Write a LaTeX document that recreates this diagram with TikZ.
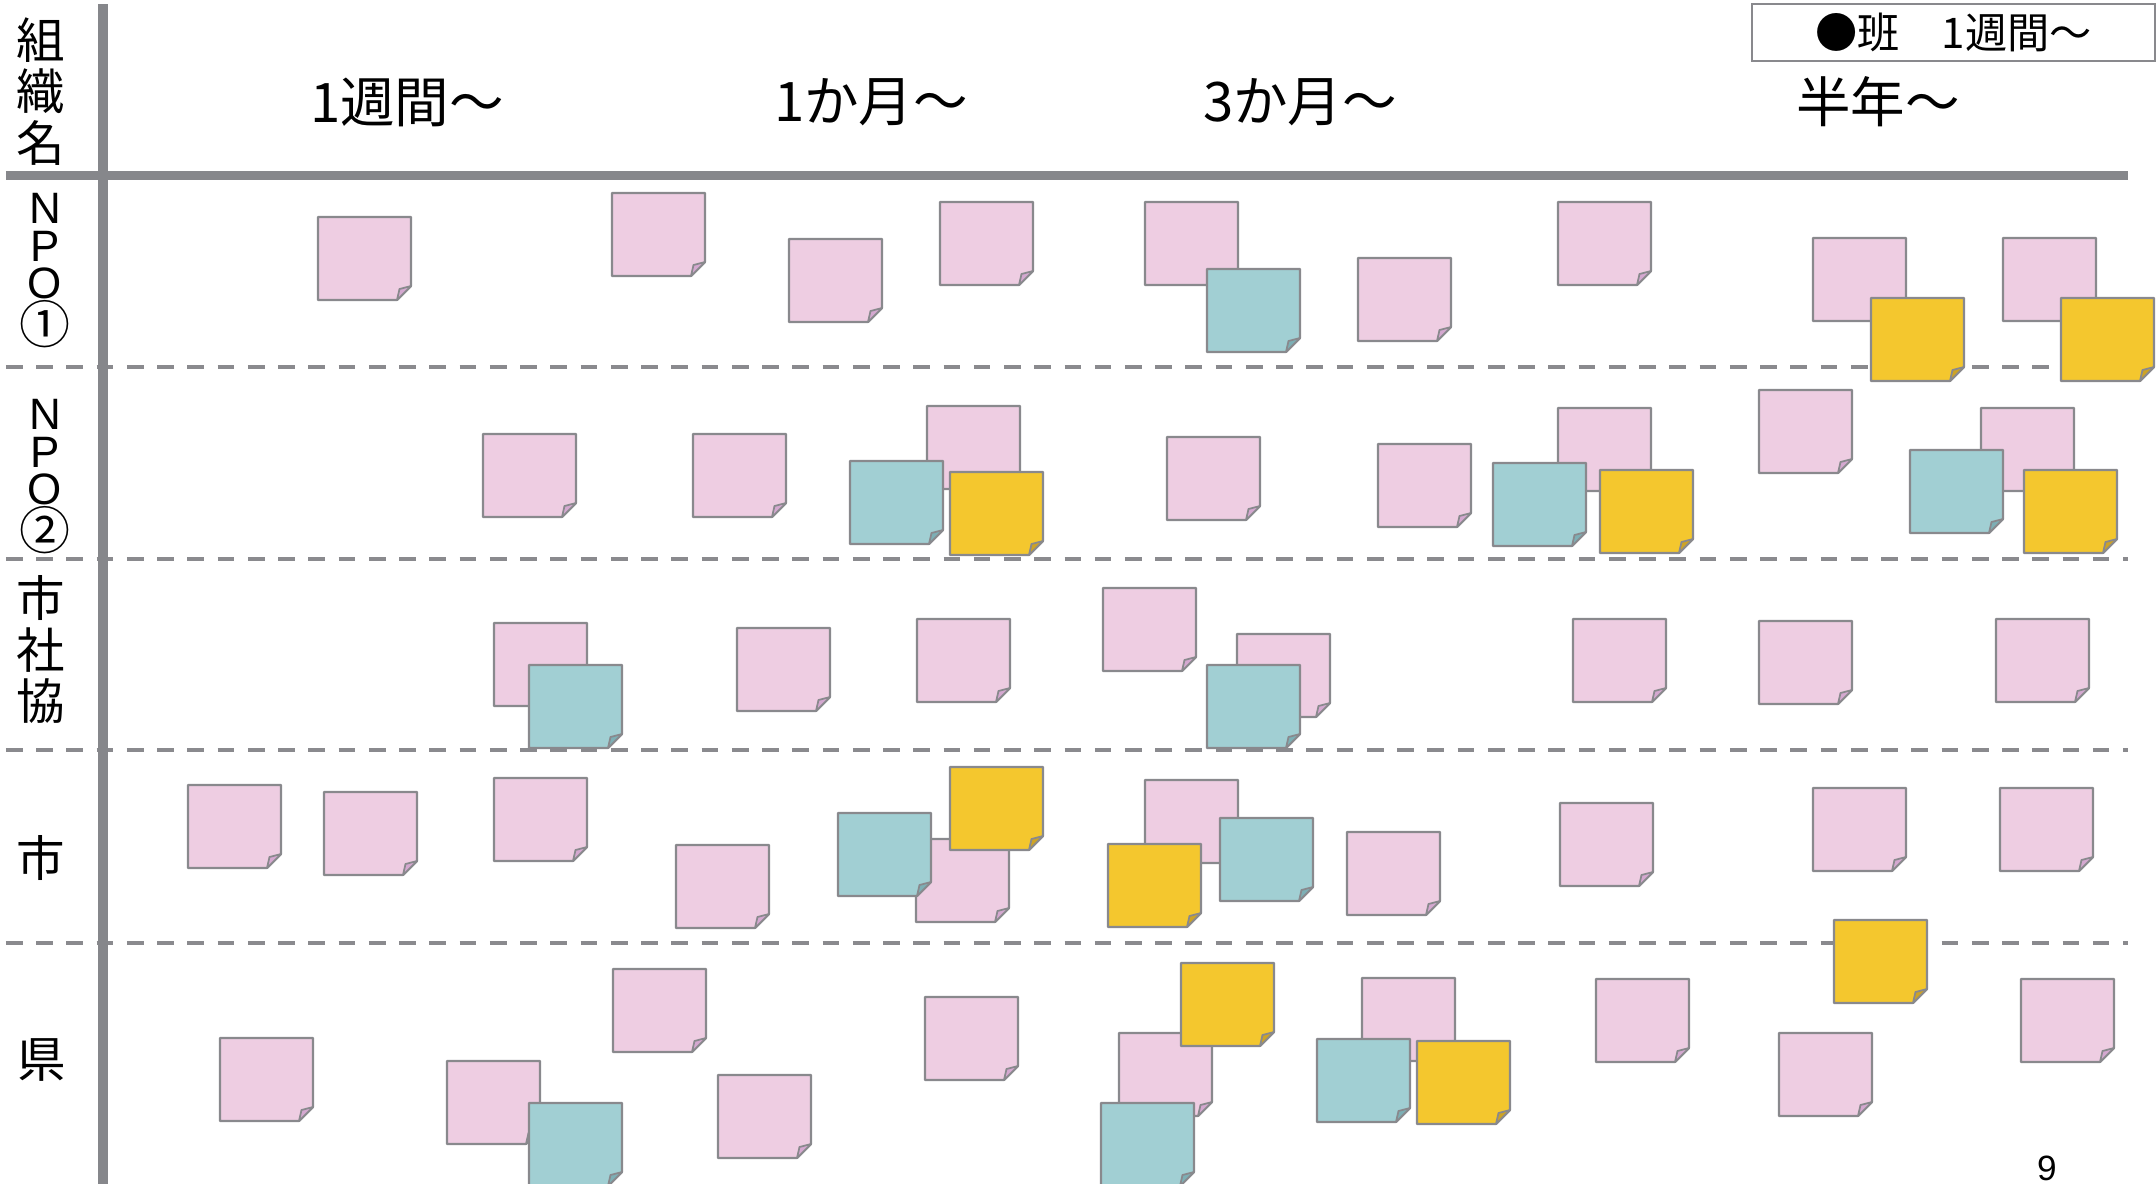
\documentclass[tikz,border=0pt]{standalone}
\usepackage{fontspec}
\setmainfont{Liberation Sans}
\newfontfamily\jp{Noto Sans CJK JP}
\definecolor{notepink}{RGB}{238,205,226}
\definecolor{notepinkfold}{RGB}{212,168,208}
\definecolor{noteteal}{RGB}{161,207,211}
\definecolor{notetealfold}{RGB}{125,175,181}
\definecolor{noteyellow}{RGB}{244,199,46}
\definecolor{noteyellowfold}{RGB}{205,163,38}
\definecolor{edgegray}{RGB}{137,137,141}
\definecolor{bargray}{RGB}{134,135,139}
\definecolor{dashgray}{RGB}{138,138,142}
\tikzset{
  pics/note/.style={code={
    \path[draw=edgegray, line width=0.6pt, line join=round, fill=note#1]
      (0,0) -- (93,0) -- (93,69) -- (79,83) -- (0,83) -- cycle;
    \path[draw=edgegray, line width=0.5pt, line join=round, fill=note#1fold]
      (79,83) .. controls (80,77) .. (81.5,72) -- (93,69) -- cycle;
  }},
  bar/.style={draw=bargray, line width=2.7pt},
  rowsep/.style={draw=dashgray, line width=1.22pt, dash pattern=on 4.75pt off 3.85pt},
  hdr/.style={font=\jp\fontsize{15.5}{18}\selectfont, inner sep=0pt},
  rowlab/.style={font=\jp\fontsize{13.8}{14.6}\selectfont, inner sep=0pt, align=center},
  latin/.style={font=\fontsize{12.5}{13}\selectfont, inner sep=0pt},
  circnum/.style={font=\jp\fontsize{14.5}{15}\selectfont, inner sep=0pt}
}
\begin{document}
\begin{tikzpicture}[x=0.01cm, y=-0.01cm]
\useasboundingbox (0,0) rectangle (2156,1184);
% grid lines
\draw[rowsep] (6,367) coordinate (d1a) -- (2128,367) coordinate (d1b);
\draw[rowsep] (6,559) coordinate (d2a) -- (2128,559) coordinate (d2b);
\draw[rowsep] (6,750) coordinate (d3a) -- (2128,750) coordinate (d3b);
\draw[rowsep] (6,943) coordinate (d4a) -- (2128,943) coordinate (d4b);
\draw[bar] (6,175.5) coordinate (ha) -- (2128,175.5) coordinate (hb);
\draw[bar] (103,4) coordinate (va) -- (103,1184) coordinate (vb);
% headers
\node[hdr] (h1) at (407,102) {1週間～};
\node[hdr] (h2) at (871,102) {1か月～};
\node[hdr] (h3) at (1300,102) {3か月～};
\node[hdr] (h4) at (1878,102) {半年～};
\node[draw=edgegray, line width=0.5pt, minimum width=4.03cm, minimum height=0.57cm, inner sep=0pt,
  font=\jp\fontsize{12}{14}\selectfont] (tag) at (1953.5,32.5) {●班　1週間～};
% row labels
\node[rowlab] (l0) at (41,91.5) {組\\織\\名};
\node[latin] (l1n) at (45,208) {N};
\node[latin] (l1p) at (45,246) {P};
\node[latin] (l1o) at (45,283) {O};
\node[circnum] (l1c) at (45,324) {①};
\node[latin] (l2n) at (45,414) {N};
\node[latin] (l2p) at (45,452) {P};
\node[latin] (l2o) at (45,489) {O};
\node[circnum] (l2c) at (45,530) {②};
\node[rowlab] (l3) at (41,649.5) {市\\社\\協};
\node[rowlab] (l4) at (41,858) {市};
\node[rowlab] (l5) at (42,1060) {県};
\node[font=\fontsize{10}{12}\selectfont, inner sep=0pt] (pg) at (2047,1168) {9};
% row 1: NPO1
\pic (a1) at (318,217) {note=pink};
\pic (a2) at (612,193) {note=pink};
\pic (a3) at (789,239) {note=pink};
\pic (a4) at (940,202) {note=pink};
\pic (a5) at (1145,202) {note=pink};
\pic (a6) at (1207,269) {note=teal};
\pic (a7) at (1358,258) {note=pink};
\pic (a8) at (1558,202) {note=pink};
\pic (a9) at (1813,238) {note=pink};
\pic (a10) at (1871,298) {note=yellow};
\pic (a11) at (2003,238) {note=pink};
\pic (a12) at (2061,298) {note=yellow};
% row 2: NPO2
\pic (b1) at (483,434) {note=pink};
\pic (b2) at (693,434) {note=pink};
\pic (b3) at (927,406) {note=pink};
\pic (b4) at (850,461) {note=teal};
\pic (b5) at (950,472) {note=yellow};
\pic (b6) at (1167,437) {note=pink};
\pic (b7) at (1378,444) {note=pink};
\pic (b8) at (1558,408) {note=pink};
\pic (b9) at (1493,463) {note=teal};
\pic (b10) at (1600,470) {note=yellow};
\pic (b11) at (1759,390) {note=pink};
\pic (b12) at (1981,408) {note=pink};
\pic (b13) at (1910,450) {note=teal};
\pic (b14) at (2024,470) {note=yellow};
% row 3
\pic (c1) at (494,623) {note=pink};
\pic (c2) at (529,665) {note=teal};
\pic (c3) at (737,628) {note=pink};
\pic (c4) at (917,619) {note=pink};
\pic (c5) at (1103,588) {note=pink};
\pic (c6) at (1237,634) {note=pink};
\pic (c7) at (1207,665) {note=teal};
\pic (c8) at (1573,619) {note=pink};
\pic (c9) at (1759,621) {note=pink};
\pic (c10) at (1996,619) {note=pink};
% row 4
\pic (e1) at (188,785) {note=pink};
\pic (e2) at (324,792) {note=pink};
\pic (e3) at (494,778) {note=pink};
\pic (e4) at (676,845) {note=pink};
\pic (e5) at (916,839) {note=pink};
\pic (e6) at (838,813) {note=teal};
\pic (e7) at (950,767) {note=yellow};
\pic (e8) at (1145,780) {note=pink};
\pic (e9) at (1108,844) {note=yellow};
\pic (e10) at (1220,818) {note=teal};
\pic (e11) at (1347,832) {note=pink};
\pic (e12) at (1560,803) {note=pink};
\pic (e13) at (1813,788) {note=pink};
\pic (e14) at (2000,788) {note=pink};
% row 5
\pic (f1) at (1834,920) {note=yellow};
\pic (f2) at (220,1038) {note=pink};
\pic (f3) at (613,969) {note=pink};
\pic (f4) at (447,1061) {note=pink};
\pic (f5) at (529,1103) {note=teal};
\pic (f6) at (718,1075) {note=pink};
\pic (f7) at (925,997) {note=pink};
\pic (f9) at (1119,1033) {note=pink};
\pic (f8) at (1181,963) {note=yellow};
\pic (f10) at (1101,1103) {note=teal};
\pic (f11) at (1362,978) {note=pink};
\pic (f12) at (1317,1039) {note=teal};
\pic (f13) at (1417,1041) {note=yellow};
\pic (f14) at (1596,979) {note=pink};
\pic (f15) at (1779,1033) {note=pink};
\pic (f16) at (2021,979) {note=pink};
\end{tikzpicture}
\end{document}
